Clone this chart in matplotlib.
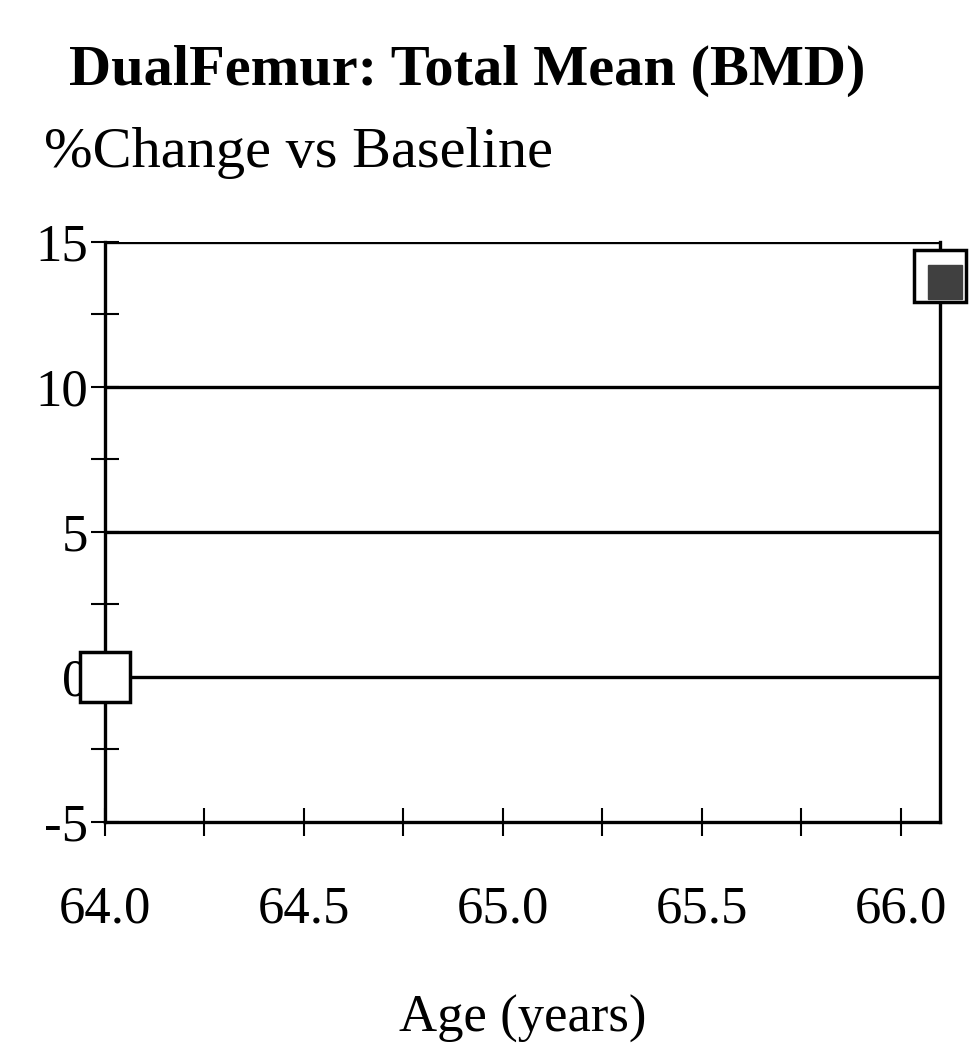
import matplotlib.pyplot as plt
from matplotlib.ticker import MultipleLocator

# data
ages = [64.0, 66.1]
pct_change = [0.0, 13.8]
x_ticks = [64.0, 64.5, 65.0, 65.5, 66.0]
y_ticks = [-5, 0, 5, 10, 15]

plt.rcParams["font.family"] = ["Liberation Serif", "DejaVu Serif"]
plt.rcParams["axes.unicode_minus"] = False

fig = plt.figure(figsize=(9.77, 10.55), dpi=100)
ax = fig.add_axes([0.1075, 0.221, 0.855, 0.55])

ax.set_xlim(64.0, 66.1)
ax.set_ylim(-5, 15)

for y in y_ticks[1:]:
    ax.axhline(y, color="black", lw=2.4, zorder=1)

# baseline point (open square) and follow-up point (shaded square)
ax.plot(ages[0], pct_change[0], marker="s", ms=36, mfc="white", mec="black",
        mew=2.5, ls="none", clip_on=False, zorder=5)
ax.plot(ages[1], pct_change[1], marker="s", ms=38, mfc="white", mec="black",
        mew=2.5, ls="none", clip_on=False, zorder=5)
ax.plot(ages[1] + 0.012, pct_change[1] - 0.2, marker="s", ms=24, mfc="#404040",
        mec="#404040", ls="none", clip_on=False, zorder=6)

ax.set_xticks(x_ticks)
ax.set_xticklabels([f"{v:.1f}" for v in x_ticks])
ax.set_yticks(y_ticks)
ax.xaxis.set_minor_locator(MultipleLocator(0.25))
ax.yaxis.set_minor_locator(MultipleLocator(2.5))
ax.tick_params(which="both", direction="inout", length=20, width=1.5,
               labelsize=38, colors="black")
ax.tick_params(axis="x", pad=36)
ax.tick_params(axis="y", pad=2)

for s in ax.spines.values():
    s.set_linewidth(2.4)
ax.spines["top"].set_visible(False)

ax.set_xlabel("Age (years)", fontsize=38, labelpad=44)

fig.text(0.478, 0.933, "DualFemur: Total Mean (BMD)", fontsize=42,
         fontweight="bold", ha="center", va="center")
fig.text(0.045, 0.855, "%Change vs Baseline", fontsize=42,
         ha="left", va="center")

fig.savefig("out.png", dpi=100)
